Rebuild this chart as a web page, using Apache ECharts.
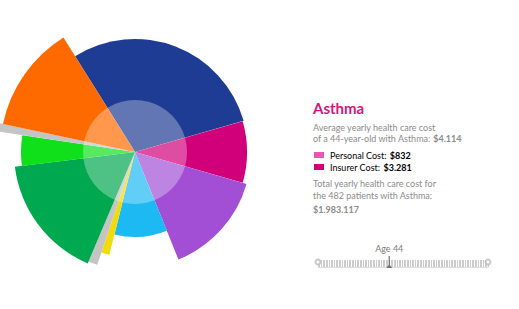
<!DOCTYPE html>
<html>
<head>
<meta charset="utf-8">
<script src="https://cdn.jsdelivr.net/npm/echarts@6/dist/echarts.min.js"></script>
<style>
html,body{margin:0;padding:0;background:#fff;}
#main{width:519px;height:309px;}
</style>
</head>
<body>
<div id="main"></div>
<script>
// slices, clockwise from the first edge (compass degrees)
var startAngle = 328;
var sliceNames = ['Blue', 'Magenta', 'Purple', 'Light blue', 'Yellow', 'Grey', 'Dark green', 'Green', 'Grey 2', 'Orange'];
var sliceAngles = [106, 32, 52, 36, 4.5, 4.5, 60, 15.5, 3.5, 46];
var sliceRadii = [113, 112, 116, 85, 106, 119, 121, 114, 140, 135];
var sliceColors = ['#1f3c94', '#d1007a', '#a24fd6', '#1cb9f2', '#f0dc0a', '#c4c4c4', '#00a84f', '#0fe01a', '#c4c4c4', '#ff6a00'];
var innerRadius = [52];

// age slider
var ageRange = [0, 105];
var currentAge = 44;

var FONT = 'Lato';

var sliceData = [];
var cum = startAngle;
for (var i = 0; i < sliceAngles.length; i++) {
	var a0 = cum % 360;
	var a1 = (cum + sliceAngles[i]) % 360;
	sliceData.push({name: sliceNames[i], value: [sliceRadii[i], a0, a1], itemStyle: {color: sliceColors[i]}});
	cum += sliceAngles[i];
}

function renderSlice(params, api) {
	var cs = params.coordSys;
	var p0 = api.coord([api.value(0), api.value(1)]);
	var p1 = api.coord([api.value(0), api.value(2)]);
	var rr = Math.hypot(p0[0] - cs.cx, p0[1] - cs.cy);
	var s = Math.atan2(p0[1] - cs.cy, p0[0] - cs.cx);
	var e = Math.atan2(p1[1] - cs.cy, p1[0] - cs.cx);
	while (e <= s) e += Math.PI * 2;
	return {
		type: 'sector',
		shape: {cx: cs.cx, cy: cs.cy, r0: 0, r: rr, startAngle: s, endAngle: e, clockwise: true},
		style: {fill: api.visual('color')}
	};
}

function renderInner(params, api) {
	var cs = params.coordSys;
	var p = api.coord([api.value(0), 0]);
	var rr = Math.hypot(p[0] - cs.cx, p[1] - cs.cy);
	return {
		type: 'circle',
		shape: {cx: cs.cx, cy: cs.cy, r: rr},
		style: {fill: 'rgba(255,255,255,0.3)'}
	};
}

var grey = '#8c8c8c';
var dark = '#333333';
var rich = {
	g: {fontFamily: FONT, fontSize: 9, color: grey},
	b: {fontFamily: FONT, fontSize: 9, color: dark, fontWeight: 'bold'}
};

function txt(y, s) {
	return {type: 'text', left: 313, top: y - 6, style: {text: s, rich: rich, fontFamily: FONT, fontSize: 9, fill: grey}};
}

var myChart = echarts.init(document.getElementById('main'), null, {renderer: 'svg'});
var option = {
	animation: false,
	backgroundColor: '#ffffff',
	polar: {center: [135, 152], radius: 140},
	angleAxis: {type: 'value', min: 0, max: 360, startAngle: 90, clockwise: true, show: false},
	radiusAxis: {type: 'value', min: 0, max: 140, show: false},
	grid: {left: 318, width: 170, top: 257, height: 10},
	xAxis: {
		type: 'value', min: ageRange[0], max: ageRange[1], interval: 1,
		axisLine: {show: true, lineStyle: {color: '#dddddd', width: 1}},
		axisTick: {show: true, inside: true, length: 7, lineStyle: {color: '#cccccc', width: 1}},
		axisLabel: {show: false},
		splitLine: {show: false}
	},
	yAxis: {type: 'value', min: 0, max: 1, show: false},
	graphic: [
		{type: 'text', left: 313, top: 100, style: {text: 'Asthma', fontFamily: FONT, fontSize: 15, fontWeight: 'bold', fill: '#d4157f'}},
		txt(129, 'Average yearly health care cost'),
		txt(140, '{g|of a 44-year-old with Asthma:} {b|$4.114}'),
		{type: 'rect', left: 314, top: 152, shape: {width: 10, height: 6}, style: {fill: '#e35bb0'}},
		{type: 'text', left: 330, top: 149, style: {text: '{g|Personal Cost:} {b|$832}', rich: rich}},
		{type: 'rect', left: 314, top: 164, shape: {width: 10, height: 6}, style: {fill: '#d1007a'}},
		{type: 'text', left: 330, top: 161, style: {text: '{g|Insurer Cost:} {b|$3.281}', rich: rich}},
		txt(185, 'Total yearly health care cost for'),
		txt(197, 'the 482 patients with Asthma:'),
		txt(211, '{b|$1.983.117}')
	],
	series: [
		{
			type: 'custom',
			coordinateSystem: 'polar',
			renderItem: renderSlice,
			encode: {radius: 0, angle: [1, 2]},
			data: sliceData,
			silent: true
		},
		{
			type: 'custom',
			coordinateSystem: 'polar',
			renderItem: renderInner,
			encode: {radius: 0},
			data: [innerRadius],
			silent: true,
			z: 5
		},
		{
			type: 'scatter',
			symbol: 'emptyCircle',
			symbolSize: 5,
			itemStyle: {color: '#bbbbbb', borderColor: '#bbbbbb'},
			data: [[ageRange[0], 0.5], [ageRange[1], 0.5]],
			silent: true
		},
		{
			type: 'scatter',
			symbol: 'path://M2.4,0 L3.6,0 L3.6,9 L6,12 L0,12 L2.4,9 Z',
			symbolSize: [6, 12],
			itemStyle: {color: '#555555'},
			label: {show: true, position: 'top', distance: 3, formatter: 'Age ' + currentAge, fontFamily: FONT, fontSize: 9, color: '#555555'},
			data: [[currentAge, 0.5]],
			silent: true
		}
	]
};
myChart.setOption(option);
</script>
</body>
</html>
